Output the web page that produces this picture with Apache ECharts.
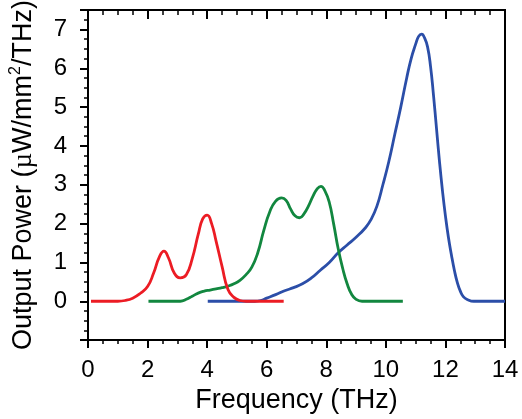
<!DOCTYPE html>
<html>
<head>
<meta charset="utf-8">
<script src="https://cdn.jsdelivr.net/npm/echarts@6/dist/echarts.min.js"></script>
<style>html,body{margin:0;padding:0;background:#fff}#c{width:522px;height:419px}</style>
</head>
<body>
<div id="c"></div>
<script>
// ---- data ----
const redFreq = [0.1, 1.0, 1.25, 1.5, 1.75, 2.0, 2.2, 2.4, 2.55, 2.7, 2.9, 3.1, 3.3, 3.5, 3.7, 3.85, 4.0, 4.15, 4.3, 4.5, 4.7, 4.9, 5.1, 5.3, 6.57];
const redPow  = [0, 0, 0.02, 0.08, 0.2, 0.38, 0.72, 1.15, 1.29, 1.12, 0.72, 0.6, 0.68, 1.1, 1.72, 2.12, 2.22, 2.0, 1.55, 0.9, 0.3, 0.1, 0.02, 0, 0];

const greenFreq = [2.03, 3.1, 3.3, 3.5, 3.7, 3.9, 4.1, 4.3, 4.5, 4.7, 4.9, 5.1, 5.3, 5.5, 5.7, 5.9, 6.1, 6.3, 6.5, 6.65, 6.8, 6.95, 7.1, 7.25, 7.4, 7.55, 7.7, 7.82, 7.95, 8.1, 8.25, 8.4, 8.55, 8.7, 8.85, 9.0, 9.2, 10.57];
const greenPow  = [0, 0, 0.05, 0.13, 0.21, 0.26, 0.29, 0.32, 0.35, 0.39, 0.45, 0.54, 0.68, 0.88, 1.25, 1.82, 2.3, 2.58, 2.66, 2.6, 2.38, 2.2, 2.15, 2.25, 2.45, 2.7, 2.9, 2.96, 2.85, 2.55, 1.98, 1.35, 0.85, 0.45, 0.18, 0.05, 0, 0];

const blueFreq = [4.02, 5.6, 5.8, 6.0, 6.3, 6.6, 6.9, 7.2, 7.5, 7.8, 8.1, 8.4, 8.7, 9.0, 9.3, 9.5, 9.7, 9.9, 10.1, 10.3, 10.5, 10.7, 10.85, 11.0, 11.1, 11.2, 11.3, 11.4, 11.5, 11.6, 11.7, 11.8, 11.9, 12.0, 12.1, 12.2, 12.3, 12.4, 12.5, 12.6, 12.75, 12.95, 14];
const bluePow  = [0, 0, 0.02, 0.08, 0.17, 0.27, 0.35, 0.45, 0.6, 0.8, 1.0, 1.25, 1.45, 1.65, 1.88, 2.1, 2.45, 3.0, 3.6, 4.3, 5.0, 5.75, 6.25, 6.62, 6.82, 6.88, 6.78, 6.55, 6.05, 5.3, 4.45, 3.6, 2.85, 2.2, 1.65, 1.2, 0.8, 0.48, 0.26, 0.12, 0.04, 0, 0];

const annotTexts = ['\u039B=300nm', '\u039B=150nm', '\u039B=100nm'];
const annotAnchors = [[2.8, 2.77], [7.02, 3.54], [8.85, 6.8]];
const noteAnchor = [7.07, -0.43];
const noteText = '{r|P}{rs|tot}{r|=3.5\u00B5W/mm}{rp|2}{r|;}{g| 7.7\u00B5W/mm}{gp|2}{g|;}{b|15.3\u00B5W/mm}{bp|2}';

const RED = '#ec1c24', GREEN = '#12873f', BLUE = '#2b4ea8';
const zip = (a, b) => a.map((v, i) => [v, b[i]]);

const chart = echarts.init(document.getElementById('c'), null, {renderer: 'canvas'});
const SANS = 'Liberation Sans, Arial, sans-serif';
const SERIF = 'Liberation Serif, Times New Roman, serif';
const lineBase = {type: 'line', showSymbol: false, symbol: 'none', smooth: 0.5, xAxisIndex: 0, yAxisIndex: 0};
const annotColors = [RED, GREEN, BLUE];

chart.setOption({
  animation: false,
  grid: {left: 84, right: 17, top: 10, bottom: 66, show: true, borderColor: '#000', borderWidth: 2, backgroundColor: 'transparent'},
  xAxis: [
    {type: 'value', position: 'bottom', min: 0, max: 14, interval: 2,
     axisLine: {show: true, onZero: false, lineStyle: {color: '#000', width: 2}},
     axisTick: {show: true, inside: false, length: 8, lineStyle: {color: '#000', width: 2}},
     minorTick: {show: true, splitNumber: 4, length: 4, lineStyle: {color: '#000', width: 1.5}},
     axisLabel: {show: true, fontSize: 24, color: '#000', fontFamily: SANS, margin: 18},
     splitLine: {show: false},
     name: 'Frequency (THz)', nameLocation: 'middle', nameGap: 44,
     nameTextStyle: {fontSize: 27, color: '#000', fontFamily: SANS}},
    {type: 'value', position: 'top', min: 0, max: 14, interval: 2,
     axisLine: {show: true, onZero: false, lineStyle: {color: '#000', width: 2}},
     axisTick: {show: true, inside: true, length: 9, lineStyle: {color: '#000', width: 2}},
     minorTick: {show: true, splitNumber: 4, length: 5, lineStyle: {color: '#000', width: 1.5}},
     axisLabel: {show: false}, splitLine: {show: false}}
  ],
  yAxis: [
    {type: 'value', position: 'left', min: -1, max: 7.5, interval: 1,
     axisLine: {show: true, onZero: false, lineStyle: {color: '#000', width: 2}},
     axisTick: {show: true, inside: false, length: 8, lineStyle: {color: '#000', width: 2}},
     minorTick: {show: true, splitNumber: 4, length: 4, lineStyle: {color: '#000', width: 1.5}},
     axisLabel: {show: true, fontSize: 24, color: '#000', fontFamily: SANS, margin: 21,
                 formatter: v => (v < 0 || v > 7) ? '' : String(v)},
     splitLine: {show: false},
     name: 'Output Power ({mu|\u00B5}W/mm{sup|2}/THz)', nameLocation: 'middle', nameGap: 48,
     nameTextStyle: {fontSize: 27, color: '#000', fontFamily: SANS, lineHeight: 32,
       rich: {mu: {fontFamily: SERIF, fontSize: 27, lineHeight: 32},
              sup: {fontFamily: SANS, fontSize: 16, lineHeight: 14, verticalAlign: 'top'}}}},
    {type: 'value', position: 'right', min: -1, max: 7.5, interval: 1,
     axisLine: {show: true, onZero: false, lineStyle: {color: '#000', width: 2}},
     axisTick: {show: false}, axisLabel: {show: false}, splitLine: {show: false}}
  ],
  series: [
    Object.assign({}, lineBase, {name: 'blue', data: zip(blueFreq, bluePow), lineStyle: {color: BLUE, width: 2.8}, itemStyle: {color: BLUE}, z: 2}),
    Object.assign({}, lineBase, {name: 'green', data: zip(greenFreq, greenPow), lineStyle: {color: GREEN, width: 2.8}, itemStyle: {color: GREEN}, z: 3}),
    Object.assign({}, lineBase, {name: 'red', data: zip(redFreq, redPow), lineStyle: {color: RED, width: 2.8}, itemStyle: {color: RED}, z: 4}),
    {type: 'scatter', name: 'annotations', xAxisIndex: 0, yAxisIndex: 0, symbolSize: 0, silent: true, z: 6,
     itemStyle: {opacity: 0},
     data: annotAnchors.map((p, i) => ({value: p,
       label: {show: true, position: 'inside', formatter: annotTexts[i], color: annotColors[i],
               fontFamily: SERIF, fontSize: 23}})).concat([
       {value: noteAnchor,
        label: {show: true, position: 'inside', formatter: noteText, fontFamily: SERIF, fontSize: 22,
          rich: {
            r: {color: RED, fontFamily: SERIF, fontSize: 22, lineHeight: 26},
            rs: {color: RED, fontFamily: SERIF, fontSize: 15, lineHeight: 12, verticalAlign: 'bottom'},
            rp: {color: RED, fontFamily: SERIF, fontSize: 15, lineHeight: 14, verticalAlign: 'top'},
            g: {color: GREEN, fontFamily: SERIF, fontSize: 22, lineHeight: 26},
            gp: {color: GREEN, fontFamily: SERIF, fontSize: 15, lineHeight: 14, verticalAlign: 'top'},
            b: {color: BLUE, fontFamily: SERIF, fontSize: 22, lineHeight: 26},
            bp: {color: BLUE, fontFamily: SERIF, fontSize: 15, lineHeight: 14, verticalAlign: 'top'}
          }}}
     ])}
  ]
});
</script>
</body>
</html>
